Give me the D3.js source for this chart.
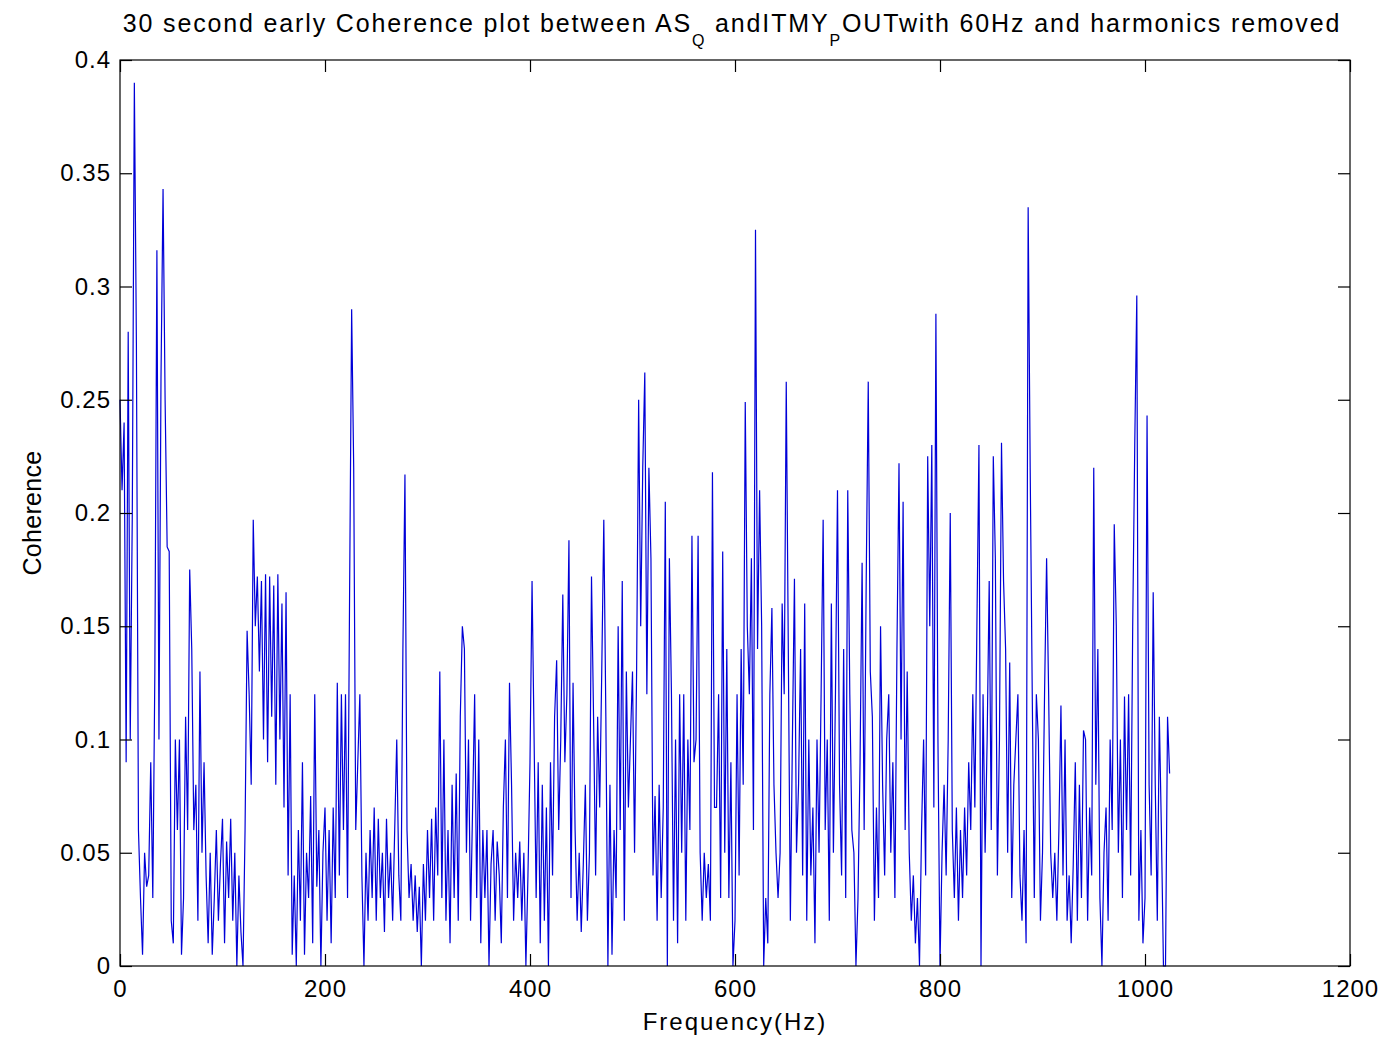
<!DOCTYPE html>
<html><head><meta charset="utf-8">
<script src="https://cdn.jsdelivr.net/npm/d3@7"></script>
<style>
html,body{margin:0;padding:0;background:#fff;}
svg{display:block;font-family:"Liberation Sans",Arial,Helvetica,sans-serif;}
</style></head>
<body>
<svg id="chart" width="1383" height="1038"></svg>
<script>
// Frequency step of the samples (Hz); samples go 0..1024 Hz
const freqStep = 2;
// Coherence values, one per 2 Hz
const coh0 = [0.25,0.21,0.24,0.09,0.28,0.1,0.2,0.39,0.275,0.06,0.03,0.005,0.05,0.035,0.04,0.09,0.03,0.13,0.316,0.1,0.26,0.343,0.25,0.185,0.183];
const coh1 = [0.02,0.01,0.1,0.06,0.1,0.005,0.03,0.11,0.06,0.175,0.14,0.06,0.08,0.02,0.13,0.05,0.09,0.04,0.01,0.05,0.005,0.03,0.06,0.02,0.045];
const coh2 = [0.065,0.01,0.055,0.03,0.065,0.02,0.05,0.0,0.04,0.015,0.0,0.06,0.148,0.12,0.08,0.197,0.15,0.172,0.13,0.17,0.1,0.173,0.09,0.172,0.11];
const coh3 = [0.168,0.08,0.173,0.1,0.16,0.07,0.165,0.04,0.12,0.005,0.04,0.0,0.06,0.02,0.09,0.005,0.05,0.03,0.075,0.01,0.12,0.035,0.06,0.0,0.05];
const coh4 = [0.07,0.02,0.06,0.01,0.07,0.03,0.125,0.04,0.12,0.06,0.12,0.03,0.165,0.29,0.22,0.06,0.09,0.12,0.04,0.0,0.05,0.02,0.06,0.03,0.07];
const coh5 = [0.02,0.065,0.03,0.05,0.015,0.065,0.03,0.05,0.02,0.06,0.1,0.04,0.02,0.14,0.217,0.06,0.03,0.045,0.02,0.04,0.015,0.035,0.0,0.045,0.02];
const coh6 = [0.06,0.03,0.065,0.02,0.07,0.04,0.13,0.03,0.1,0.02,0.06,0.01,0.08,0.03,0.085,0.02,0.11,0.15,0.14,0.05,0.1,0.02,0.07,0.12,0.03];
const coh7 = [0.1,0.01,0.06,0.03,0.06,0.0,0.045,0.06,0.02,0.055,0.04,0.01,0.07,0.1,0.03,0.125,0.08,0.02,0.05,0.03,0.055,0.02,0.05,0.0,0.04];
const coh8 = [0.09,0.17,0.1,0.03,0.09,0.01,0.08,0.02,0.07,0.0,0.09,0.04,0.11,0.135,0.06,0.1,0.164,0.09,0.12,0.188,0.03,0.125,0.06,0.02,0.05];
const coh9 = [0.015,0.045,0.08,0.02,0.05,0.172,0.11,0.04,0.11,0.07,0.13,0.197,0.11,0.0,0.08,0.005,0.06,0.03,0.15,0.06,0.17,0.02,0.13,0.07,0.1];
const coh10 = [0.13,0.05,0.13,0.25,0.15,0.22,0.262,0.12,0.22,0.18,0.04,0.075,0.02,0.08,0.03,0.07,0.205,0.0,0.18,0.12,0.02,0.1,0.01,0.12,0.05];
const coh11 = [0.12,0.02,0.1,0.06,0.19,0.09,0.1,0.19,0.05,0.02,0.05,0.03,0.045,0.02,0.218,0.07,0.07,0.12,0.03,0.183,0.05,0.14,0.03,0.09,0.0];
const coh12 = [0.02,0.12,0.04,0.14,0.08,0.249,0.15,0.12,0.18,0.06,0.325,0.14,0.21,0.15,0.0,0.03,0.01,0.12,0.158,0.08,0.05,0.03,0.05,0.16,0.12];
const coh13 = [0.258,0.14,0.02,0.1,0.171,0.05,0.08,0.14,0.04,0.16,0.02,0.1,0.04,0.07,0.01,0.1,0.05,0.12,0.197,0.06,0.1,0.02,0.16,0.05,0.12];
const coh14 = [0.21,0.08,0.04,0.14,0.03,0.21,0.12,0.06,0.05,0.0,0.03,0.09,0.178,0.06,0.17,0.258,0.13,0.11,0.02,0.07,0.03,0.15,0.08,0.04,0.1];
const coh15 = [0.12,0.05,0.09,0.03,0.14,0.222,0.1,0.205,0.06,0.13,0.05,0.02,0.04,0.01,0.03,0.0,0.06,0.1,0.04,0.225,0.15,0.23,0.07,0.288,0.1];
const coh16 = [0.0,0.05,0.08,0.04,0.1,0.2,0.06,0.03,0.07,0.02,0.06,0.03,0.07,0.04,0.09,0.06,0.12,0.07,0.15,0.23,0.0,0.12,0.05,0.1,0.17];
const coh17 = [0.06,0.225,0.18,0.04,0.1,0.231,0.17,0.14,0.05,0.134,0.03,0.08,0.1,0.12,0.04,0.02,0.06,0.01,0.335,0.219,0.12,0.03,0.12,0.1,0.02];
const coh18 = [0.05,0.12,0.18,0.12,0.05,0.03,0.05,0.02,0.06,0.115,0.04,0.1,0.02,0.04,0.01,0.045,0.09,0.02,0.08,0.03,0.104,0.1,0.02,0.07,0.04];
const coh19 = [0.22,0.08,0.14,0.03,0.0,0.05,0.07,0.02,0.1,0.06,0.195,0.15,0.05,0.1,0.03,0.119,0.06,0.12,0.04,0.15,0.23,0.296,0.02,0.06,0.01];
const coh20 = [0.03,0.243,0.08,0.04,0.165,0.08,0.02,0.11,0.06,0.0,0.0,0.11,0.085];

const coherence = [].concat(coh0,coh1,coh2,coh3,coh4,coh5,coh6,coh7,coh8,coh9,coh10,
  coh11,coh12,coh13,coh14,coh15,coh16,coh17,coh18,coh19,coh20);

const xTicks = [0,200,400,600,800,1000,1200];
const yTicks = [0,0.05,0.1,0.15,0.2,0.25,0.3,0.35,0.4];
const yTickLabels = ["0","0.05","0.1","0.15","0.2","0.25","0.3","0.35","0.4"];

const mLeft = 120, mRight = 1350, mTop = 60, mBottom = 966;
const svg = d3.select("#chart");
const x = d3.scaleLinear().domain([0,1200]).range([mLeft,mRight]);
const y = d3.scaleLinear().domain([0,0.4]).range([mBottom,mTop]);

const data = coherence.map((v,i)=>({f:i*freqStep, c:v}));

// plot line
svg.append("path")
  .datum(data)
  .attr("fill","none")
  .attr("stroke","#0000d8")
  .attr("stroke-width",1.2)
  .attr("d", d3.line().x(d=>x(d.f)).y(d=>y(d.c)));

// box
svg.append("rect").attr("x",mLeft).attr("y",mTop).attr("width",mRight-mLeft).attr("height",mBottom-mTop)
  .attr("fill","none").attr("stroke","#000").attr("stroke-width",1.2);

const fs = 24;
const tickLen = 12;
const xAxisB = d3.axisBottom(x).tickValues(xTicks).tickSize(-tickLen).tickPadding(14).tickFormat(d3.format("d"));
const gxb = svg.append("g").attr("transform",`translate(0,${mBottom})`).call(xAxisB);
const xAxisT = d3.axisTop(x).tickValues(xTicks).tickSize(-tickLen).tickFormat("");
const gxt = svg.append("g").attr("transform",`translate(0,${mTop})`).call(xAxisT);
const yAxisL = d3.axisLeft(y).tickValues(yTicks).tickSize(-tickLen).tickPadding(9)
  .tickFormat((d,i)=>yTickLabels[i]);
const gyl = svg.append("g").attr("transform",`translate(${mLeft},0)`).call(yAxisL);
const yAxisR = d3.axisRight(y).tickValues(yTicks).tickSize(-tickLen).tickFormat("");
const gyr = svg.append("g").attr("transform",`translate(${mRight},0)`).call(yAxisR);
[gxb,gxt,gyl,gyr].forEach(g=>{
  g.select(".domain").remove();
  g.selectAll(".tick line").attr("stroke","#000").attr("stroke-width",1.2);
  g.selectAll(".tick text").attr("font-size",fs).attr("fill","#000")
   .attr("font-family","Liberation Sans, Arial, sans-serif").attr("letter-spacing",1);
});
gxb.selectAll(".tick text").attr("dy","0.71em");

svg.append("text").attr("x",735).attr("y",1030).attr("text-anchor","middle")
  .attr("font-size",24).attr("letter-spacing",2).text("Frequency(Hz)");
svg.append("text").attr("transform","translate(41,513) rotate(-90)").attr("text-anchor","middle")
  .attr("font-size",25).attr("letter-spacing",0.3).text("Coherence");

const t = svg.append("text").attr("x",732).attr("y",32).attr("text-anchor","middle")
  .attr("font-size",25).attr("letter-spacing",1.85);
t.append("tspan").text("30 second early Coherence plot between AS");
t.append("tspan").attr("font-size",16).attr("dy",14).text("Q");
t.append("tspan").attr("dy",-14).text(" andITMY");
t.append("tspan").attr("font-size",16).attr("dy",14).text("P");
t.append("tspan").attr("dy",-14).text("OUTwith 60Hz and harmonics removed");
</script>
</body></html>
